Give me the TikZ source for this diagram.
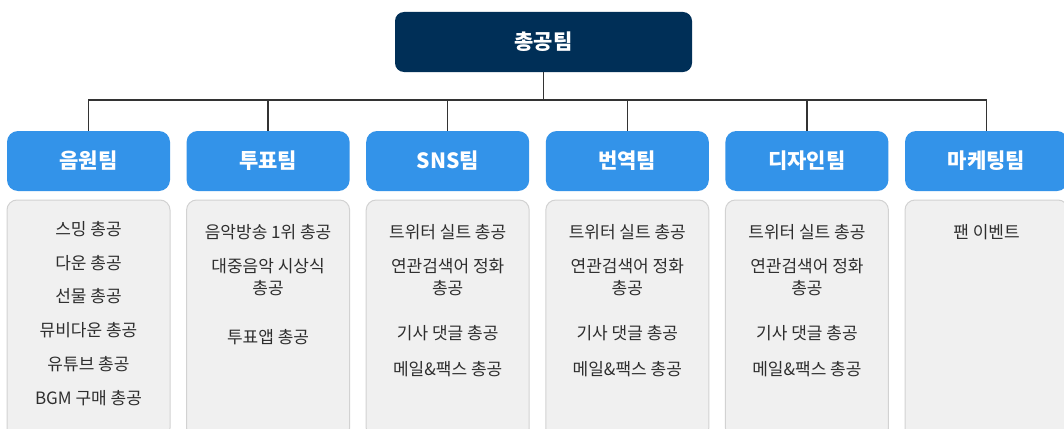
\documentclass[tikz,border=0pt]{standalone}
\usepackage{fontspec}
\setmainfont{Noto Sans CJK KR}
\newfontfamily\kr{Noto Sans CJK KR}
\definecolor{navy}{HTML}{002F57}
\definecolor{teamblue}{HTML}{3393E9}
\definecolor{itemfill}{HTML}{F0F0F0}
\definecolor{itemline}{HTML}{D2D2D2}
\definecolor{itemtext}{HTML}{2E2E2E}
\definecolor{linkc}{HTML}{333333}
\tikzset{
  topbox/.style={fill=navy, rounded corners=9pt, minimum width=297pt, minimum height=60pt, text=white, font=\kr\bfseries\fontsize{21}{24}\selectfont, inner sep=0pt},
  teambox/.style={fill=teamblue, rounded corners=11pt, minimum width=163pt, minimum height=60pt, text=white, font=\kr\bfseries\fontsize{21}{24}\selectfont, inner sep=0pt},
  itembox/.style={fill=itemfill, draw=itemline, line width=1pt, rounded corners=10pt},
  itemtxt/.style={text=itemtext, font=\kr\fontsize{17}{22}\selectfont, align=center, inner sep=0pt},
  link/.style={draw=linkc, line width=1.4pt},
}
\begin{document}
\begin{tikzpicture}[x=1pt,y=-1pt]
\useasboundingbox (0,0) rectangle (1064,428);
\clip (0,0) rectangle (1064,428);
\fill[white] (0,0) rectangle (1064,428);
% top
\node[topbox] (top) at (543.5,42) {총공팀};
% teams
\foreach \i/\nm/\lab in {0/t1/음원팀,1/t2/투표팀,2/t3/SNS팀,3/t4/번역팀,4/t5/디자인팀,5/t6/마케팅팀}{
  \node[teambox] (\nm) at ({88.5+179.6*\i},161) {\lab};
  \path[itembox] ({7+179.6*\i},200) rectangle ({170+179.6*\i},438);
}
\coordinate (bus) at (543.5,100);
\draw[link] (top.south) -- (bus);
\draw[link] (t1.north) |- (bus);
\draw[link] (t6.north) |- (bus);
\foreach \nm in {t2,t3,t4,t5}{
  \draw[link] (\nm.north) -- (\nm.north |- bus);
}
% items col 1
\node[itemtxt] (a1) at (88.5,229) {스밍 총공};
\node[itemtxt] (a2) at (88.5,263) {다운 총공};
\node[itemtxt] (a3) at (88.5,296) {선물 총공};
\node[itemtxt] (a4) at (88.5,330) {뮤비다운 총공};
\node[itemtxt] (a5) at (88.5,364) {유튜브 총공};
\node[itemtxt] (a6) at (88.5,398) {BGM 구매 총공};
% col 2
\node[itemtxt] (b1) at (268.1,232) {음악방송 1위 총공};
\node[itemtxt] (b2) at (268.1,277) {대중음악 시상식\\총공};
\node[itemtxt] (b3) at (268.1,337) {투표앱 총공};
% col 3-5
\foreach \i/\p in {2/c,3/d,4/e}{
  \node[itemtxt] (\p1) at ({88.5+179.6*\i},232) {트위터 실트 총공};
  \node[itemtxt] (\p2) at ({88.5+179.6*\i},277) {연관검색어 정화\\총공};
  \node[itemtxt] (\p3) at ({88.5+179.6*\i},333) {기사 댓글 총공};
  \node[itemtxt] (\p4) at ({88.5+179.6*\i},369) {메일\&팩스 총공};
}
% col 6
\node[itemtxt] (f1) at (986.5,232) {팬 이벤트};
\end{tikzpicture}
\end{document}
